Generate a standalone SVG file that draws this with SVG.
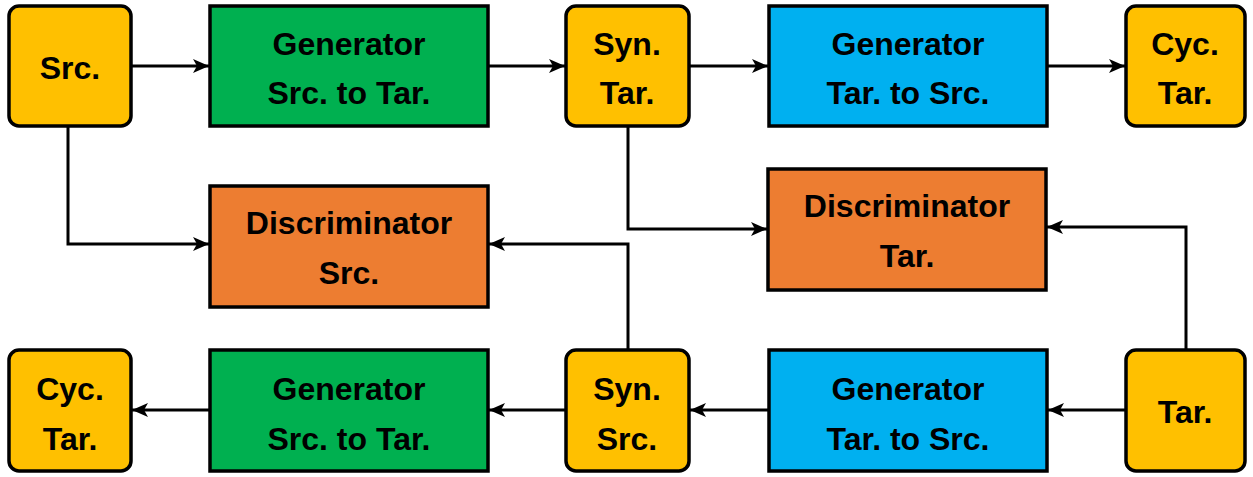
<svg xmlns="http://www.w3.org/2000/svg" width="1253" height="477" viewBox="0 0 1253 477">
<defs>
<marker id="ah" viewBox="0 0 16 14" refX="16" refY="7" markerWidth="16" markerHeight="14" markerUnits="userSpaceOnUse" orient="auto">
<path d="M0,0 L16,7 L0,14 L4,7 Z" fill="#000"/>
</marker>
<style>
.box{stroke:#000;stroke-width:3.5}
.y{fill:#FFC000}
.g{fill:#00B050}
.b{fill:#00B0F0}
.o{fill:#ED7D31}
.t{font-family:"Liberation Sans",Arial,sans-serif;font-weight:bold;font-size:32px;text-anchor:middle;fill:#000}
.c{fill:none;stroke:#000;stroke-width:3;marker-end:url(#ah)}
</style>
</defs>
<rect width="1253" height="477" fill="#fff"/>
<g id="connectors">
<path class="c" d="M131,66 H209"/>
<path class="c" d="M488,66 H565"/>
<path class="c" d="M689,66 H768"/>
<path class="c" d="M1047,66 H1125"/>
<path class="c" d="M68,126 V244 H209"/>
<path class="c" d="M628,126 V229 H767"/>
<path class="c" d="M1186,350 V227 H1047"/>
<path class="c" d="M628,350 V244 H489"/>
<path class="c" d="M1126,410 H1048"/>
<path class="c" d="M769,410 H690"/>
<path class="c" d="M566,410 H489"/>
<path class="c" d="M210,410 H132"/>
</g>
<g id="src">
<rect class="box y" x="9" y="6" width="122" height="120" rx="10"/>
<text class="t" x="70" y="79">Src.</text>
</g>
<g id="gen_s2t_top">
<rect class="box g" x="210" y="6" width="278" height="120"/>
<text class="t" x="349" y="55">Generator</text>
<text class="t" x="349" y="104">Src. to Tar.</text>
</g>
<g id="syn_tar">
<rect class="box y" x="566" y="6" width="123" height="120" rx="10"/>
<text class="t" x="627" y="55">Syn.</text>
<text class="t" x="627" y="104">Tar.</text>
</g>
<g id="gen_t2s_top">
<rect class="box b" x="769" y="6" width="278" height="120"/>
<text class="t" x="908" y="55">Generator</text>
<text class="t" x="908" y="104">Tar. to Src.</text>
</g>
<g id="cyc_tar_top">
<rect class="box y" x="1126" y="6" width="119" height="120" rx="10"/>
<text class="t" x="1185" y="55">Cyc.</text>
<text class="t" x="1185" y="104">Tar.</text>
</g>
<g id="disc_src">
<rect class="box o" x="210" y="186" width="278" height="121"/>
<text class="t" x="349" y="234">Discriminator</text>
<text class="t" x="349" y="284">Src.</text>
</g>
<g id="disc_tar">
<rect class="box o" x="768" y="169" width="278" height="121"/>
<text class="t" x="907" y="217">Discriminator</text>
<text class="t" x="907" y="267">Tar.</text>
</g>
<g id="cyc_tar_bottom">
<rect class="box y" x="9" y="350" width="122" height="121" rx="10"/>
<text class="t" x="70" y="400">Cyc.</text>
<text class="t" x="70" y="450">Tar.</text>
</g>
<g id="gen_s2t_bottom">
<rect class="box g" x="210" y="350" width="278" height="121"/>
<text class="t" x="349" y="400">Generator</text>
<text class="t" x="349" y="450">Src. to Tar.</text>
</g>
<g id="syn_src">
<rect class="box y" x="566" y="350" width="123" height="121" rx="10"/>
<text class="t" x="627" y="400">Syn.</text>
<text class="t" x="627" y="450">Src.</text>
</g>
<g id="gen_t2s_bottom">
<rect class="box b" x="769" y="350" width="278" height="121"/>
<text class="t" x="908" y="400">Generator</text>
<text class="t" x="908" y="450">Tar. to Src.</text>
</g>
<g id="tar">
<rect class="box y" x="1126" y="350" width="119" height="121" rx="10"/>
<text class="t" x="1185" y="423">Tar.</text>
</g>
</svg>
